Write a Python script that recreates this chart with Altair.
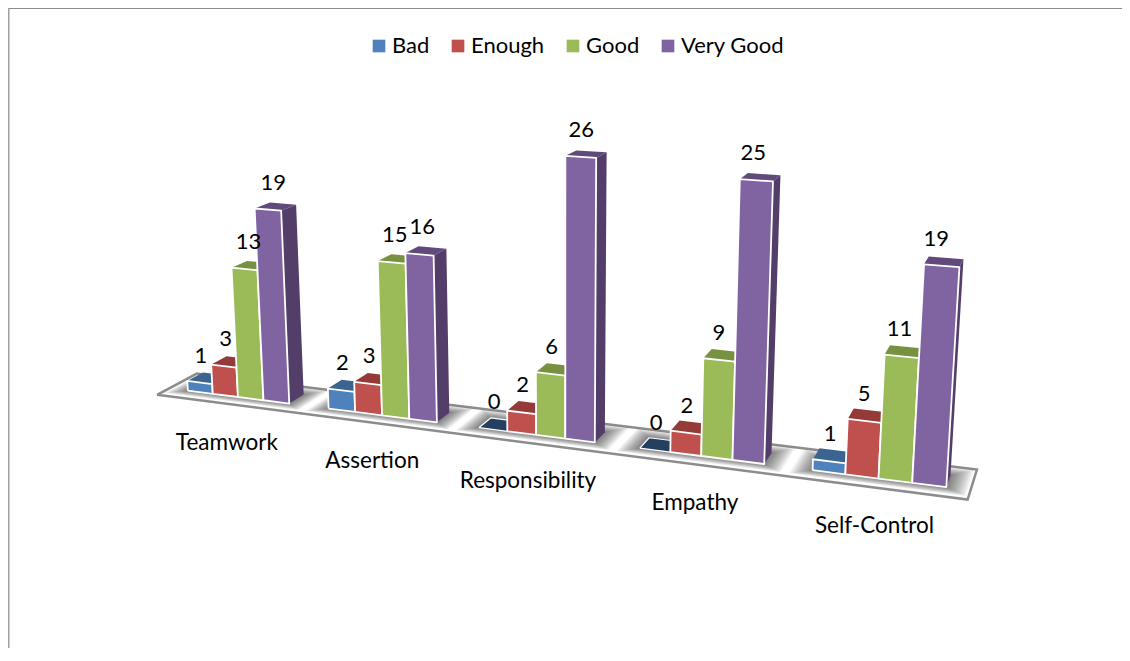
import numpy as np
import pandas as pd
import altair as alt

categories = ["Teamwork", "Assertion", "Responsibility", "Empathy", "Self-Control"]
series = ["Bad", "Enough", "Good", "Very Good"]
bad = [1, 2, 0, 0, 1]
enough = [3, 3, 2, 2, 5]
good = [13, 15, 6, 9, 11]
very_good = [19, 16, 26, 25, 19]
values = [bad, enough, good, very_good]

front_colors = ["#4F81BD", "#C0504D", "#9BBB59", "#8064A2"]
top_colors = ["#3B6490", "#943B39", "#789141", "#604A7B"]
zero_top = "#234060"
side_colors = ["#2F4F73", "#7A2F2D", "#5F7433", "#533D69"]

W, H = 1114, 640
PITCH = 5.5

# camera calibration: (u along the floor, v depth, h value) -> page position
cal = [
    (0, 0, 0, 188, 392), (4, 0, 0, 289, 404), (5.5, 0, 0, 328, 408), (9.5, 0, 0, 437, 422),
    (11, 0, 0, 480, 428), (15, 0, 0, 594, 443), (16.5, 0, 0, 639, 448), (20.5, 0, 0, 764, 464),
    (22, 0, 0, 813, 470), (26, 0, 0, 946, 487),
    (4, 1, 0, 304, 393), (9.5, 1, 0, 449, 410), (15, 1, 0, 606, 433), (20.5, 1, 0, 772, 455),
    (4, 0, 19, 281, 209), (3, 0, 19, 255, 209), (9.5, 0, 16, 433, 256), (8.5, 0, 16, 406, 254),
    (15, 0, 26, 596, 157), (14, 0, 26, 566, 156), (20.5, 0, 25, 773, 181), (19.5, 0, 25, 741, 179),
    (26, 0, 19, 958, 266), (25, 0, 19, 924, 265),
    (4, 1, 19, 296, 205), (9.5, 1, 16, 445, 250), (15, 1, 26, 606, 153), (20.5, 1, 25, 781, 176),
    (26, 1, 19, 963, 258),
]
A = []
for u, v, h, px, py in cal:
    px, py = px / 1000, py / 1000
    X = [u, v, h, 1]
    A.append(X + [0, 0, 0, 0] + [-px * c for c in X])
    A.append([0, 0, 0, 0] + X + [-py * c for c in X])
P = np.linalg.svd(np.array(A, float))[2][-1].reshape(3, 4)

# refine on reprojection error
cal_arr = np.array(cal, float)
Xw = np.c_[cal_arr[:, :3], np.ones(len(cal_arr))]
target = cal_arr[:, 3:] / 1000


def resid(p):
    q = Xw @ p.reshape(3, 4).T
    return (q[:, :2] / q[:, 2:] - target).ravel()


p = P.ravel() / np.linalg.norm(P)
for _ in range(30):
    r = resid(p)
    J = np.array([(resid(p + 1e-6 * e) - r) / 1e-6 for e in np.eye(12)]).T
    p = p - np.linalg.lstsq(J, r, rcond=1e-10)[0]
    p = p / np.linalg.norm(p)
P = p.reshape(3, 4)


def project(u, v, h):
    q = P @ np.array([u, v, h, 1.0])
    return 1000 * q[0] / q[2] - 8, 1000 * q[1] / q[2] - 8


rows, shadow_rows, labels = [], [], []
face = 0


def add(table, pts, fill, stroke="white", sw=1.2):
    global face
    face += 1
    closed = list(pts) + [pts[0]]
    for i, (u, v, h) in enumerate(closed):
        x, y = project(u, v, h)
        table.append(dict(face=face, ord=i, x=x, y=y, fill=fill, stroke=stroke, sw=sw))


# floor
floor_rows = []
add(floor_rows, [(-0.75, -0.75, 0), (26.7, -0.75, 0), (26.7, 1.75, 0), (-0.75, 1.75, 0)], "white", "#8C8C8C", 2.5)

# soft shadow round each cluster
STEPS = 14
for g in range(len(categories)):
    u0 = g * PITCH
    for k in range(STEPS):
        f = 1 - k / STEPS
        mu, mf, mb = 0.62 * f, 0.5 * f, 0.7 * f
        add(shadow_rows,
            [(u0 - mu, -mf, 0), (u0 + 4 + mu, -mf, 0), (u0 + 4 + mu, 1 + mb, 0), (u0 - mu, 1 + mb, 0)],
            "#000000", "transparent", 0)

# bars
for g, cat in enumerate(categories):
    for s, name in enumerate(series):
        val = values[s][g]
        u0 = g * PITCH + s
        u1 = u0 + 1
        add(rows, [(u0, 0, val), (u1, 0, val), (u1, 1, val), (u0, 1, val)],
            (name + " top") if val > 0 else "zero top", "white" if val == 0 else "transparent", 1.2)
        add(rows, [(u1, 0, 0), (u1, 1, 0), (u1, 1, val), (u1, 0, val)], name + " side", "transparent", 0)
        if val > 0:
            add(rows, [(u0, 0, 0), (u1, 0, 0), (u1, 0, val), (u0, 0, val)], name, "white", 1.8)
        ly = project(u0 + 0.5, 0, val)[1]
        lx = project(u0 + 0.5, 0, val / 2)[0]
        labels.append(dict(x=lx + 1, y=ly - 27, text=str(val)))

cat_labels = []
for g, cat in enumerate(categories):
    lx, ly = project(g * PITCH + 2, -1, -2.8)
    cat_labels.append(dict(x=lx + 3, y=ly + 9 - 1.25 * g, text=cat))

domain = list(series) + [n + " top" for n in series] + ["zero top"] + [n + " side" for n in series]
rng = list(front_colors) + list(top_colors) + [zero_top] + list(side_colors)

xs = alt.Scale(domain=[0, W], range=[0, W], nice=False, zero=False)
ys = alt.Scale(domain=[0, H], range=[0, H], nice=False, zero=False)
X_ = alt.X("x:Q", scale=xs, axis=None)
Y_ = alt.Y("y:Q", scale=ys, axis=None)

floor = alt.Chart(pd.DataFrame(floor_rows)).mark_line(fill="white", stroke="#8C8C8C", strokeWidth=2.5, strokeJoin="miter").encode(
    x=X_, y=Y_, detail="face:N", order="ord:Q")
shadow = alt.Chart(pd.DataFrame(shadow_rows)).mark_line(fill="black", fillOpacity=0.042, strokeWidth=0).encode(
    x=X_, y=Y_, detail="face:N", order="ord:Q")
bars = alt.Chart(pd.DataFrame(rows)).mark_line(strokeJoin="round").encode(
    x=X_, y=Y_, detail="face:N", order="ord:Q",
    fill=alt.Fill("fill:N", scale=alt.Scale(domain=domain, range=rng),
                  legend=alt.Legend(values=series, title=None, orient="none", direction="horizontal",
                                    legendX=360, legendY=27, symbolType="square", symbolSize=160,
                                    symbolStrokeWidth=0, labelFont="Lato", labelFontSize=22, labelColor="#000000",
                                    columnPadding=17, labelOffset=2, labelLimit=200)),
    stroke=alt.Stroke("stroke:N", scale=None),
    strokeWidth=alt.StrokeWidth("sw:Q", scale=None),
)
val_text = alt.Chart(pd.DataFrame(labels)).mark_text(font="Lato", fontSize=22, color="#000000", baseline="middle").encode(
    x=X_, y=Y_, text="text:N")
cat_text = alt.Chart(pd.DataFrame(cat_labels)).mark_text(font="Lato", fontSize=22.5, color="#000000", baseline="middle").encode(
    x=X_, y=Y_, text="text:N")
top_rule = alt.Chart(pd.DataFrame({"a": [0]})).mark_rule(color="#8C8C8C", strokeWidth=2).encode(
    x=alt.value(0), x2=alt.value(W), y=alt.value(0))
left_rule = alt.Chart(pd.DataFrame({"a": [0]})).mark_rule(color="#A0A0A0", strokeWidth=2).encode(
    x=alt.value(0.5), y=alt.value(0), y2=alt.value(H))

chart = alt.layer(top_rule, left_rule, floor, shadow, bars, val_text, cat_text).resolve_scale(
    fill="independent"
).properties(width=W, height=H, padding=0, autosize=alt.AutoSizeParams(type="none"),
             background="white").configure_view(stroke=None)

chart.save("out.html", embed_options={"renderer": "svg", "actions": False})
